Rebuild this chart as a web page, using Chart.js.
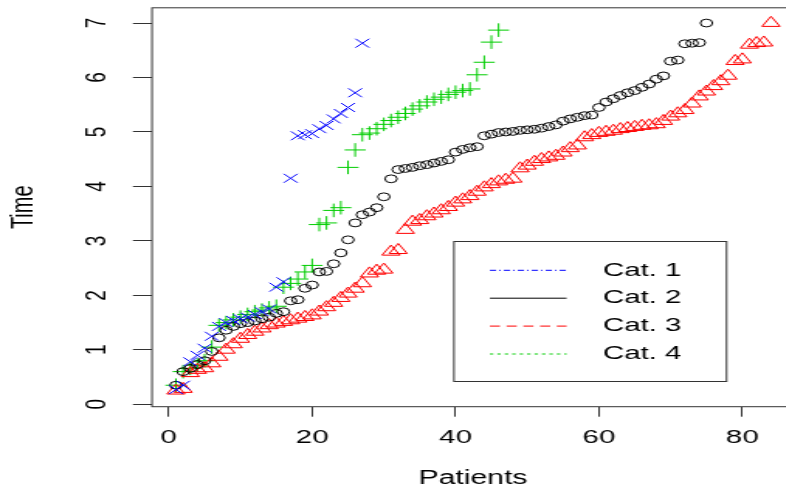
<!DOCTYPE html>
<html>
<head>
<meta charset="utf-8">
<script src="https://cdn.jsdelivr.net/npm/chart.js@4/dist/chart.umd.min.js"></script>
<style>
  html, body { margin: 0; padding: 0; background: #fff; overflow: hidden; width: 786px; height: 494px; }
  /* el grafico original esta estirado en horizontal */
  #wrap { width: 520px; height: 494px; transform: scaleX(1.55); transform-origin: 0 0; }
</style>
</head>
<body>
<div id="wrap"><canvas id="grafica"></canvas></div>
<script>
// datos (tiempo ordenado por paciente)
const seriesLabels = ["Cat. 1", "Cat. 2", "Cat. 3", "Cat. 4"];
const xTicks = [0, 20, 40, 60, 80];
const yTicks = [0, 1, 2, 3, 4, 5, 6, 7];

const cat1Time = [0.27, 0.35, 0.78, 0.9, 1.03, 1.25, 1.43, 1.5, 1.54, 1.57, 1.6, 1.65, 1.7, 1.75,
  2.15, 2.25, 4.15, 4.93, 4.95, 4.97, 5.06, 5.12, 5.24, 5.34, 5.45, 5.72, 6.63];

const cat2Time = [0.35, 0.6, 0.66, 0.73, 0.8, 0.97, 1.22, 1.36, 1.43, 1.48, 1.5, 1.53, 1.57, 1.6, 1.67,
  1.7, 1.9, 1.92, 2.13, 2.19, 2.43, 2.44, 2.58, 2.78, 3.02, 3.33, 3.48, 3.53, 3.61, 3.81,
  4.14, 4.31, 4.33, 4.35, 4.38, 4.4, 4.43, 4.46, 4.49, 4.63, 4.68, 4.71, 4.73, 4.93, 4.96,
  4.99, 5.0, 5.01, 5.03, 5.04, 5.05, 5.07, 5.1, 5.13, 5.2, 5.24, 5.27, 5.3, 5.31, 5.45,
  5.55, 5.61, 5.67, 5.72, 5.76, 5.82, 5.88, 5.97, 6.03, 6.3, 6.32, 6.62, 6.63, 6.64, 7.0];

const cat3Time = [0.25, 0.28, 0.57, 0.63, 0.66, 0.75, 0.87, 1.0, 1.1, 1.2, 1.27, 1.33, 1.39, 1.45,
  1.48, 1.51, 1.54, 1.57, 1.6, 1.63, 1.7, 1.78, 1.86, 1.95, 2.03, 2.12, 2.22, 2.4, 2.45, 2.47,
  2.8, 2.83, 3.2, 3.35, 3.38, 3.45, 3.5, 3.56, 3.62, 3.7, 3.76, 3.82, 3.9, 3.98, 4.04,
  4.09, 4.12, 4.14, 4.33, 4.38, 4.45, 4.5, 4.53, 4.56, 4.62, 4.7, 4.75, 4.9, 4.94, 4.98,
  5.0, 5.02, 5.05, 5.07, 5.09, 5.11, 5.12, 5.14, 5.2, 5.28, 5.34, 5.4, 5.52, 5.65, 5.74,
  5.84, 5.93, 6.03, 6.3, 6.33, 6.6, 6.63, 6.64, 7.0];

const cat4Time = [0.35, 0.6, 0.66, 0.72, 0.8, 1.05, 1.45, 1.5, 1.55, 1.6, 1.65, 1.7, 1.73, 1.77,
  1.8, 2.15, 2.22, 2.3, 2.43, 2.55, 3.3, 3.33, 3.56, 3.61, 4.35, 4.67, 4.95, 4.98, 5.06,
  5.14, 5.21, 5.27, 5.34, 5.42, 5.48, 5.55, 5.6, 5.64, 5.69, 5.73, 5.76, 5.79, 6.05, 6.28,
  6.65, 6.87];

// estilos
const colores = ["#0000ff", "#000000", "#ff0000", "#00cd00"];
const simbolos = ["crossRot", "circle", "triangle", "cross"];
const radios = [6.3, 3.9, 6.7, 6.8];
const legendDash = [[4, 2, 1, 2], [], [6.5, 4.3], [2.2, 2.6]];
const FONT = "'Liberation Sans', Arial, sans-serif";

function aPuntos(arr) {
  return arr.map((v, i) => ({ x: i + 1, y: v }));
}

const series = [cat1Time, cat2Time, cat3Time, cat4Time];

// marco completo y leyenda estilo R
const marcoPlugin = {
  id: "marco",
  afterDraw(chart) {
    const { ctx, chartArea: a } = chart;
    ctx.save();
    ctx.strokeStyle = "#333";
    ctx.lineWidth = 1;
    ctx.strokeRect(a.left, a.top, a.right - a.left, a.bottom - a.top);

    const bx = a.left + 194.8, by = a.top + 233.7, bw = 175.9, bh = 140;
    ctx.fillStyle = "#fff";
    ctx.fillRect(bx, by, bw, bh);
    ctx.strokeRect(bx, by, bw, bh);

    ctx.font = "19px " + FONT;
    ctx.textBaseline = "middle";
    seriesLabels.forEach((lab, i) => {
      const y = by + 28.8 + i * 27.9;
      ctx.beginPath();
      ctx.setLineDash(legendDash[i]);
      ctx.strokeStyle = colores[i];
      ctx.moveTo(bx + 23.2, y);
      ctx.lineTo(bx + 72.7, y);
      ctx.stroke();
      ctx.setLineDash([]);
      ctx.fillStyle = "#000";
      ctx.fillText(lab, bx + 96.1, y);
    });
    ctx.restore();
  }
};

const ctx = document.getElementById("grafica").getContext("2d");
new Chart(ctx, {
  type: "scatter",
  data: {
    datasets: series.map((s, i) => ({
      label: seriesLabels[i],
      data: aPuntos(s),
      pointStyle: simbolos[i],
      pointRadius: radios[i],
      borderColor: colores[i],
      backgroundColor: "rgba(0,0,0,0)",
      borderWidth: 1
    }))
  },
  options: {
    responsive: true,
    maintainAspectRatio: false,
    animation: false,
    events: [],
    layout: { padding: { top: 7, right: 7.7, left: 0, bottom: 0 } },
    plugins: { legend: { display: false }, tooltip: { enabled: false } },
    scales: {
      x: {
        type: "linear",
        min: -2.34,
        max: 87.2,
        afterBuildTicks: s => { s.ticks = xTicks.map(v => ({ value: v })); },
        afterFit: s => { s.height = 87.3; s.paddingLeft = 0; s.paddingRight = 0; },
        border: { display: false },
        grid: { drawOnChartArea: false, drawTicks: true, tickLength: 10, color: "#333" },
        ticks: { color: "#000", padding: 10, maxRotation: 0, font: { family: FONT, size: 19 } },
        title: { display: true, text: "Patients", color: "#000", padding: { top: 0, bottom: 4 },
                 font: { family: FONT, size: 19.5 } }
      },
      y: {
        min: -0.044,
        max: 7.28,
        afterBuildTicks: s => { s.ticks = yTicks.map(v => ({ value: v })); },
        afterFit: s => { s.width = 98.06; s.paddingTop = 0; s.paddingBottom = 0; },
        border: { display: false },
        grid: { drawOnChartArea: false, drawTicks: true, tickLength: 12.3, color: "#333" },
        ticks: { color: "#000", padding: 18, minRotation: 90, maxRotation: 90, crossAlign: "center",
                 font: { family: FONT, size: 19 } },
        title: { display: true, text: "Time", color: "#000", padding: { top: 3, bottom: 0 },
                 font: { family: FONT, size: 20 } }
      }
    }
  },
  plugins: [marcoPlugin]
});
</script>
</body>
</html>
